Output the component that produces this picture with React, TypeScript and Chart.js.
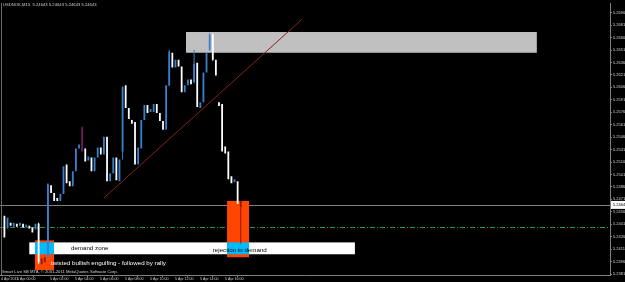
import React, { useEffect, useRef } from "react";
import { Chart, registerables } from "chart.js";
Chart.register(...registerables);

// ---- data (USDNOK, M15) ----
const chartTitle = "USDNOK,M15  5.24643 5.24643 5.24643 5.24643";
const copyright = "Smart Live SB MTA, \u00a9 2001-2011 MetaQuotes Software Corp.";

const opens = [
  5.24512, 5.24358, 5.24429, 5.24381, 5.24417, 5.24393, 5.24417, 5.2437, 5.24393, 5.2437,
  5.24346, 5.24417, 5.24, 5.23953, 5.24012, 5.24881, 5.24786, 5.24727, 5.24691, 5.24774,
  5.25131, 5.24929, 5.24869, 5.25048, 5.25322, 5.25286, 5.25322, 5.25179, 5.25215, 5.25048,
  5.25215, 5.25334, 5.25251, 5.25465, 5.24929, 5.25024, 5.25215, 5.24929, 5.25286, 5.26084,
  5.2581, 5.25667, 5.25643, 5.25131, 5.25322, 5.25667, 5.25846, 5.25762, 5.25762, 5.25858,
  5.2575, 5.25655, 5.25548, 5.26084, 5.26477, 5.26298, 5.26393, 5.2631, 5.26001, 5.26084,
  5.26155, 5.2612, 5.26358, 5.2581, 5.25881, 5.26239, 5.26512, 5.26691, 5.26393, 5.25881,
  5.25858, 5.25346, 5.25286, 5.24989, 5.24917, 5.24929, 5.2462,
];
const closes = [
  5.24251, 5.24489, 5.24393, 5.24429, 5.24381, 5.24429, 5.2437, 5.24405, 5.24358, 5.2431,
  5.24417, 5.23953, 5.23929, 5.24012, 5.24893, 5.24786, 5.24691, 5.24691, 5.24774, 5.25108,
  5.24905, 5.24869, 5.25048, 5.25322, 5.2537, 5.25584, 5.25167, 5.25227, 5.25048, 5.25215,
  5.25334, 5.25251, 5.25465, 5.24929, 5.25024, 5.25215, 5.24941, 5.25191, 5.2606, 5.2581,
  5.25679, 5.2562, 5.25131, 5.25334, 5.25667, 5.25846, 5.2575, 5.25798, 5.25858, 5.2575,
  5.25655, 5.25548, 5.26084, 5.26489, 5.26298, 5.26393, 5.2631, 5.26001, 5.26084, 5.26155,
  5.26096, 5.26346, 5.25822, 5.25881, 5.26239, 5.26477, 5.26691, 5.26393, 5.26203, 5.25834,
  5.25286, 5.25262, 5.24953, 5.24905, 5.24953, 5.24655, 5.24691,
];
const wickIdx = [11, 14, 38, 53, 61, 66, 67, 76];
const wickLow = [5.23929, 5.24, 5.25191, 5.26072, 5.26108, 5.265, 5.26381, 5.24179];
const wickHigh = [5.24429, 5.24905, 5.26072, 5.26512, 5.26512, 5.26715, 5.26715, 5.24691];
const darkBars = [12, 13, 76];
const markerBars = [25];

const priceTicks = [
  5.2696, 5.2681, 5.2666, 5.2651, 5.2636, 5.2621, 5.2606, 5.2591, 5.2576, 5.2561, 5.2546,
  5.2531, 5.2516, 5.2501, 5.2486, 5.2471, 5.2456, 5.2441, 5.2426, 5.2411, 5.2396, 5.2381,
];
const timeTickPos = [-1.09, 4.05, 14.66, 22.69, 30.74, 38.78, 46.82, 54.86, 62.89, 70.93];
const timeTickLabels = [
  "4 Apr 2011", "5 Apr 00:00", "5 Apr 02:00", "5 Apr 04:00", "5 Apr 06:00",
  "5 Apr 08:00", "5 Apr 10:00", "5 Apr 12:00", "5 Apr 14:00", "5 Apr 16:00",
];
const bidPrice = 5.24643;
const orderPrice = 5.24381;

// drawn objects (in bar-index / price units)
const supplyZone = { x0: 58.4, x1: 171.2, p0: 5.26727, p1: 5.26477 };
const demandZone = { x0: 8.0, x1: 112.7, p0: 5.24191, p1: 5.24048 };
const orangeBoxes = [
  { x0: 9.84, x1: 15.95, p0: 5.24215, p1: 5.23858 },
  { x0: 71.6, x1: 78.65, p0: 5.24691, p1: 5.24012 },
];
const trendLine = { x0: 32.0, p0: 5.24727, x1: 95.7, p1: 5.26881 };
const notes = [
  { text: "demand zone", x: 21.4, p: 5.24116, color: "#000000" },
  { text: "rejection in demand", x: 67.0, p: 5.24096, color: "#000000" },
  { text: "twisted bullish engulfing - followed by rally", x: 15.0, p: 5.23937, color: "#ffffff" },
];

const X_MIN = -1.415;
const X_MAX = 194.73;
const Y_MIN = 5.23798;
const Y_MAX = 5.27072;

const BULL = "#3a80d0";
const BEAR = "#ffffff";
const DARK = "#8b1a00";
const MARK = "#6b1f63";
const AXIS = "#808080";
const TEXT = "#d0d0d0";
const FONT = "'Liberation Sans', Arial, sans-serif";

function barColor(i: number) {
  if (darkBars.includes(i)) return DARK;
  if (markerBars.includes(i)) return MARK;
  return closes[i] >= opens[i] ? BULL : BEAR;
}

const mtPlugin = {
  id: "mt",
  beforeDraw(chart: any) {
    const { ctx, width, height } = chart;
    ctx.save();
    ctx.fillStyle = "#000";
    ctx.fillRect(0, 0, width, height);
    ctx.restore();
  },
  beforeDatasetsDraw(chart: any) {
    const { ctx, chartArea: a, scales } = chart;
    const xs = scales.x, ys = scales.y;
    const rect = (r: any) => {
      const l = xs.getPixelForValue(r.x0), rr = xs.getPixelForValue(r.x1);
      const t = ys.getPixelForValue(r.p0), b = ys.getPixelForValue(r.p1);
      return { l, r: rr, t, b };
    };
    ctx.save();
    ctx.beginPath();
    ctx.rect(a.left, a.top, a.right - a.left, a.bottom - a.top);
    ctx.clip();
    // bid line
    const by = Math.round(ys.getPixelForValue(bidPrice)) + 0.5;
    ctx.strokeStyle = AXIS;
    ctx.lineWidth = 1;
    ctx.beginPath();
    ctx.moveTo(a.left, by);
    ctx.lineTo(a.right, by);
    ctx.stroke();
    // order line (dash-dot green)
    const oy = Math.round(ys.getPixelForValue(orderPrice)) + 0.5;
    ctx.strokeStyle = "#2f8f3f";
    ctx.setLineDash([5, 2, 1, 2]);
    ctx.beginPath();
    ctx.moveTo(a.left, oy);
    ctx.lineTo(a.right, oy);
    ctx.stroke();
    ctx.setLineDash([]);
    // supply zone
    const s = rect(supplyZone);
    ctx.fillStyle = "#c0c0c0";
    ctx.fillRect(s.l, s.t, s.r - s.l, s.b - s.t);
    // demand zone
    const d = rect(demandZone);
    ctx.fillStyle = "#ffffff";
    ctx.fillRect(d.l, d.t, d.r - d.l, d.b - d.t);
    // orange boxes, with the xor-like overlap on the white zone
    orangeBoxes.forEach((ob) => {
      const o = rect(ob);
      ctx.fillStyle = "#ff4500";
      ctx.fillRect(o.l, o.t, o.r - o.l, o.b - o.t);
      const il = Math.max(o.l, d.l), ir = Math.min(o.r, d.r);
      const it = Math.max(o.t, d.t), ib = Math.min(o.b, d.b);
      if (ir > il && ib > it) {
        ctx.fillStyle = "#00baff";
        ctx.fillRect(il, it, ir - il, ib - it);
      }
    });
    // trend line
    ctx.strokeStyle = "#8b2020";
    ctx.lineWidth = 1;
    ctx.beginPath();
    ctx.moveTo(xs.getPixelForValue(trendLine.x0), ys.getPixelForValue(trendLine.p0));
    ctx.lineTo(xs.getPixelForValue(trendLine.x1), ys.getPixelForValue(trendLine.p1));
    ctx.stroke();
    ctx.restore();
  },
  afterDatasetsDraw(chart: any) {
    const { ctx, scales } = chart;
    ctx.save();
    ctx.textAlign = "left";
    ctx.textBaseline = "middle";
    ctx.font = `6.2px ${FONT}`;
    notes.forEach((n) => {
      ctx.fillStyle = n.color;
      ctx.fillText(n.text, scales.x.getPixelForValue(n.x), scales.y.getPixelForValue(n.p));
    });
    ctx.restore();
  },
  afterDraw(chart: any) {
    const { ctx, chartArea: a, scales, width } = chart;
    ctx.save();
    // left frame line
    ctx.strokeStyle = "#6a6a6a";
    ctx.beginPath();
    ctx.moveTo(a.left + 1.5, 3);
    ctx.lineTo(a.left + 1.5, a.bottom);
    ctx.stroke();
    ctx.textAlign = "left";
    ctx.textBaseline = "middle";
    ctx.font = `4.2px ${FONT}`;
    ctx.fillStyle = TEXT;
    ctx.fillText(chartTitle, 3, 4.5);
    ctx.fillText(copyright, 2, 271.5);
    // bid price label
    const by = scales.y.getPixelForValue(bidPrice);
    ctx.fillStyle = "#ffffff";
    ctx.fillRect(a.right + 1, by - 4, width - a.right - 1, 8);
    ctx.fillStyle = "#000000";
    ctx.font = `4px ${FONT}`;
    ctx.fillText(bidPrice.toFixed(5), a.right + 3, by);
    ctx.restore();
  },
};

export default function App() {
  const ref = useRef<HTMLCanvasElement | null>(null);
  useEffect(() => {
    if (!ref.current) return;
    const bodies = opens.map((o, i) => ({ x: i, y: [o, closes[i]] }));
    const wicks = wickIdx.map((i, k) => ({ x: i, y: [wickLow[k], wickHigh[k]] }));
    const chart = new Chart(ref.current, {
      type: "bar",
      data: {
        datasets: [
          {
            label: "wicks",
            data: wicks as any,
            backgroundColor: wickIdx.map((i) => barColor(i)),
            barThickness: 1,
            inflateAmount: 0,
            grouped: false,
            order: 2,
          },
          {
            label: "bodies",
            data: bodies as any,
            backgroundColor: opens.map((_, i) => barColor(i)),
            barThickness: 1.8,
            inflateAmount: 0,
            grouped: false,
            order: 1,
          },
        ],
      },
      options: {
        responsive: false,
        animation: false,
        devicePixelRatio: 1,
        layout: { padding: 0 },
        plugins: { legend: { display: false }, tooltip: { enabled: false } },
        scales: {
          x: {
            type: "linear",
            min: X_MIN,
            max: X_MAX,
            offset: false,
            afterBuildTicks: (s: any) => {
              s.ticks = timeTickPos.map((v) => ({ value: v }));
            },
            afterFit: (s: any) => {
              s.height = 7;
            },
            ticks: {
              autoSkip: false,
              maxRotation: 0,
              minRotation: 0,
              align: "start",
              padding: 0,
              color: TEXT,
              font: { size: 3.6, family: FONT },
              callback: (_v: any, idx: number) => timeTickLabels[idx],
            },
            grid: { drawOnChartArea: false, drawTicks: true, tickLength: 2, color: AXIS },
            border: { display: true, color: AXIS },
          },
          y: {
            position: "right",
            min: Y_MIN,
            max: Y_MAX,
            afterBuildTicks: (s: any) => {
              s.ticks = priceTicks.map((v) => ({ value: v }));
            },
            afterFit: (s: any) => {
              s.width = 15;
            },
            ticks: {
              autoSkip: false,
              padding: 1,
              color: TEXT,
              font: { size: 4, family: FONT },
              callback: (v: any) => Number(v).toFixed(5),
            },
            grid: { drawOnChartArea: false, drawTicks: true, tickLength: 2, color: AXIS },
            border: { display: true, color: AXIS },
          },
        },
      } as any,
      plugins: [mtPlugin],
    });
    return () => chart.destroy();
  }, []);
  return (
    <div style={{ position: "fixed", left: 0, top: 0, width: 625, height: 282, background: "#000" }}>
      <canvas ref={ref} width={625} height={282} style={{ display: "block" }} />
    </div>
  );
}
